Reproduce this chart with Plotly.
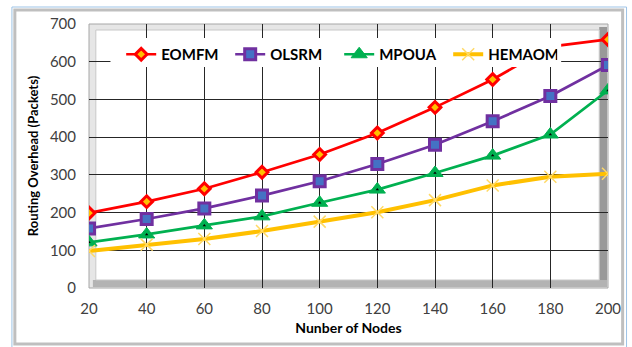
import plotly.graph_objects as go

# Number of nodes on the x axis
nodes = [20, 40, 60, 80, 100, 120, 140, 160, 180, 200]

# Routing overhead (packets) per protocol
eomfm = [199, 229, 263, 307, 354, 411, 479, 553, 640, 659]
olsrm = [158, 183, 211, 245, 283, 329, 380, 442, 509, 591]
mpoua = [121, 142, 166, 190, 226, 261, 305, 351, 407, 524]
hemaom = [98, 115, 130, 151, 176, 201, 233, 272, 295, 303]

y_ticks = [0, 100, 200, 300, 400, 500, 600, 700]

W, H = 632, 347
ML, MR, MT, MB = 89, 11, 24, 59
PW = W - ML - MR
PH = H - MT - MB


def px(x):
    return (x - ML) / PW


def py(y):
    return (H - MB - y) / PH


fig = go.Figure()

fig.add_trace(go.Scatter(
    x=nodes, y=eomfm, name="EOMFM", mode="lines+markers",
    line=dict(color="#FF0000", width=2.7),
    marker=dict(symbol="diamond", size=9, color="#FFC000",
                line=dict(color="#FF0000", width=3)),
))
fig.add_trace(go.Scatter(
    x=nodes, y=olsrm, name="OLSRM", mode="lines+markers",
    line=dict(color="#7030A0", width=2.7),
    marker=dict(symbol="square", size=11, color="#4472C4",
                line=dict(color="#7030A0", width=3)),
))
fig.add_trace(go.Scatter(
    x=nodes, y=mpoua, name="MPOUA", mode="lines+markers",
    line=dict(color="#00B050", width=2.7),
    marker=dict(symbol="triangle-up", size=14, color="#00B050",
                line=dict(color="#00B050", width=1)),
))
# small black centre dot on each MPOUA triangle
fig.add_trace(go.Scatter(
    x=nodes, y=mpoua, mode="markers", showlegend=False, hoverinfo="skip",
    marker=dict(symbol="triangle-up", size=3, color="#000000"),
))
fig.add_trace(go.Scatter(
    x=nodes, y=hemaom, name="HEMAOM", mode="lines+markers",
    line=dict(color="#FFC000", width=4),
    marker=dict(symbol="x-thin", size=12,
                line=dict(color="#FFD966", width=1.5)),
))

shapes = [
    # chart border
    dict(type="rect", xref="paper", yref="paper",
         x0=px(10), x1=px(640), y0=py(352), y1=py(7),
         line=dict(color="#9DC3E6", width=1), layer="below"),
    dict(type="rect", xref="paper", yref="paper",
         x0=px(13), x1=px(636), y0=py(344), y1=py(10),
         line=dict(color="#BFBFBF", width=3), layer="below"),
    # plot area bevel
    dict(type="rect", xref="paper", yref="paper",
         x0=px(89), x1=px(621), y0=py(288), y1=py(24),
         fillcolor="#E6E6E6", line=dict(color="#A6A6A6", width=1), layer="below"),
    dict(type="rect", xref="paper", yref="paper",
         x0=px(612), x1=px(620), y0=py(287), y1=py(27),
         fillcolor="#999999", line=dict(width=0), layer="below"),
    dict(type="rect", xref="paper", yref="paper",
         x0=px(93), x1=px(620), y0=py(287), y1=py(280),
         fillcolor="#B3B3B3", line=dict(width=0), layer="below"),
    dict(type="rect", xref="paper", yref="paper",
         x0=px(96), x1=px(612), y0=py(280), y1=py(30),
         fillcolor="#FFFFFF", line=dict(color="#C8C8C8", width=1), layer="below"),
    # legend backing box
    dict(type="rect", xref="paper", yref="paper",
         x0=px(111), x1=px(573), y0=py(67), y1=py(38),
         fillcolor="#FFFFFF", line=dict(width=0), layer="above"),
]

fig.update_layout(
    width=W, height=H,
    margin=dict(l=ML, r=MR, t=MT, b=MB),
    paper_bgcolor="#FFFFFF",
    plot_bgcolor="rgba(0,0,0,0)",
    font=dict(family="Lato, 'Open Sans', sans-serif", size=15, color="#404040"),
    shapes=shapes,
    showlegend=True,
    legend=dict(
        orientation="h",
        x=px(122), xanchor="left",
        y=py(38), yanchor="top",
        bgcolor="rgba(0,0,0,0)",
        font=dict(size=15, color="#000000", family="Lato, sans-serif", weight="bold"),
        itemwidth=30,
        entrywidth=64,
        traceorder="normal",
    ),
    xaxis=dict(
        range=[20, 200],
        tickvals=nodes,
        showgrid=True, gridcolor="#262626", gridwidth=1,
        showline=False,
        ticks="",
        ticklabelstandoff=10,
        ticklabeloverflow="allow",
        zeroline=False,
        title=dict(text="Nunber of Nodes",
                   font=dict(size=14, color="#000000", weight="bold"),
                   standoff=7),
    ),
    yaxis=dict(
        range=[0, 700],
        tickvals=y_ticks,
        showgrid=True, gridcolor="#262626", gridwidth=1,
        showline=False,
        ticks="",
        ticklabelstandoff=12,
        zeroline=False,
        title=dict(text="Routing Overhead (Packets)",
                   font=dict(size=13, color="#000000", weight="bold"),
                   standoff=8),
    ),
)

fig.write_html("out.html")
